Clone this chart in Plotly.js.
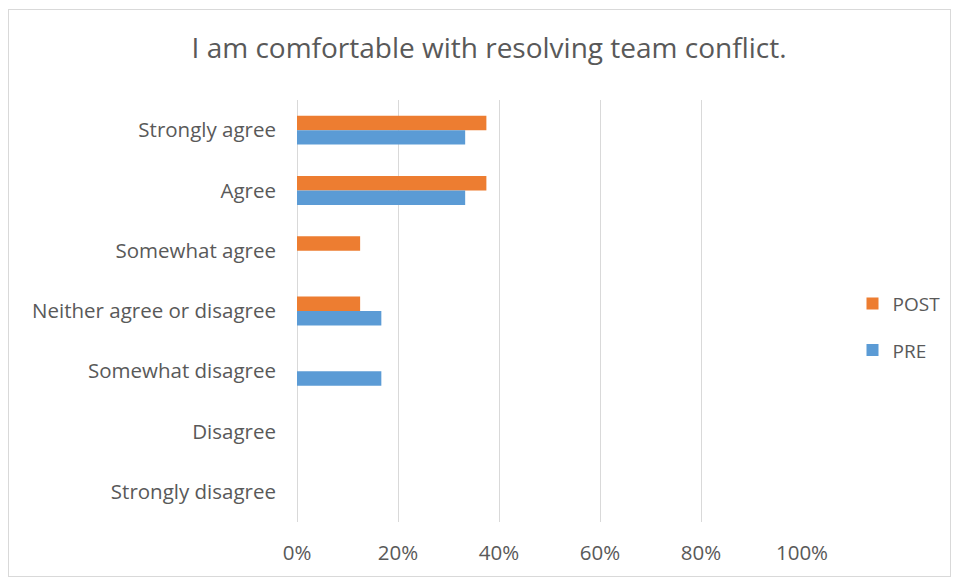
<!DOCTYPE html>
<html>
<head>
<meta charset="utf-8">
<script src="https://cdn.plot.ly/plotly-3.0.1.min.js"></script>
<style>
html,body{margin:0;padding:0;background:#fff;}
#frame{position:absolute;left:8px;top:9px;width:943px;height:568px;border:1px solid #d9d9d9;box-sizing:border-box;}
#chart{position:absolute;left:0;top:0;width:957px;height:582px;}
</style>
</head>
<body>
<div id="chart"></div>
<div id="frame"></div>
<script>
const categories = ["Strongly agree","Agree","Somewhat agree","Neither agree or disagree","Somewhat disagree","Disagree","Strongly disagree"];
const postValues = [0.375, 0.375, 0.125, 0.125, 0, 0, 0];
const preValues  = [0.333, 0.333, 0, 0.167, 0.167, 0, 0];
const xTickVals = [0, 0.2, 0.4, 0.6, 0.8, 1.0];
const xTickText = ["0%","20%","40%","60%","80%","100%"];

const font = "Open Sans, Noto Sans, sans-serif";
const data = [
  {type:"bar", orientation:"h", name:"POST", y:categories, x:postValues,
   marker:{color:"#ED7D31"}, legendgroup:"a"},
  {type:"bar", orientation:"h", name:"PRE", y:categories, x:preValues,
   marker:{color:"#5B9BD5"}, legendgroup:"b"}
];
const layout = {
  width:957, height:582,
  margin:{l:297, r:152, t:100, b:60},
  paper_bgcolor:"rgba(0,0,0,0)", plot_bgcolor:"rgba(0,0,0,0)",
  font:{family:font, color:"#595959", size:20},
  title:{text:"I am comfortable with resolving team conflict.", x:0.511, xref:"container", xanchor:"center",
         y:0.917, yref:"container", yanchor:"middle", font:{size:28, color:"#595959", family:font}},
  barmode:"group", bargap:0.52, bargroupgap:0,
  xaxis:{range:[0,1.0], tickvals:xTickVals, ticktext:xTickText, showgrid:true, gridcolor:"#d9d9d9",
         gridwidth:1, zeroline:true, zerolinecolor:"#d9d9d9", showline:false, ticks:"",
         ticklabelstandoff:16, tickfont:{size:20.5, color:"#595959"}, fixedrange:true},
  yaxis:{type:"category", autorange:"reversed", showgrid:false, zeroline:false, showline:false,
         ticks:"", ticklabelstandoff:20, tickfont:{size:20.5, color:"#595959"}},
  legend:{x:1.1, xanchor:"left", xref:"paper", y:0.462, yanchor:"middle", traceorder:"grouped",
          tracegroupgap:19, font:{size:19, color:"#595959"}, bgcolor:"rgba(0,0,0,0)"},
  showlegend:true
};
Plotly.newPlot("chart", data, layout, {displayModeBar:false, staticPlot:true});
</script>
</body>
</html>
